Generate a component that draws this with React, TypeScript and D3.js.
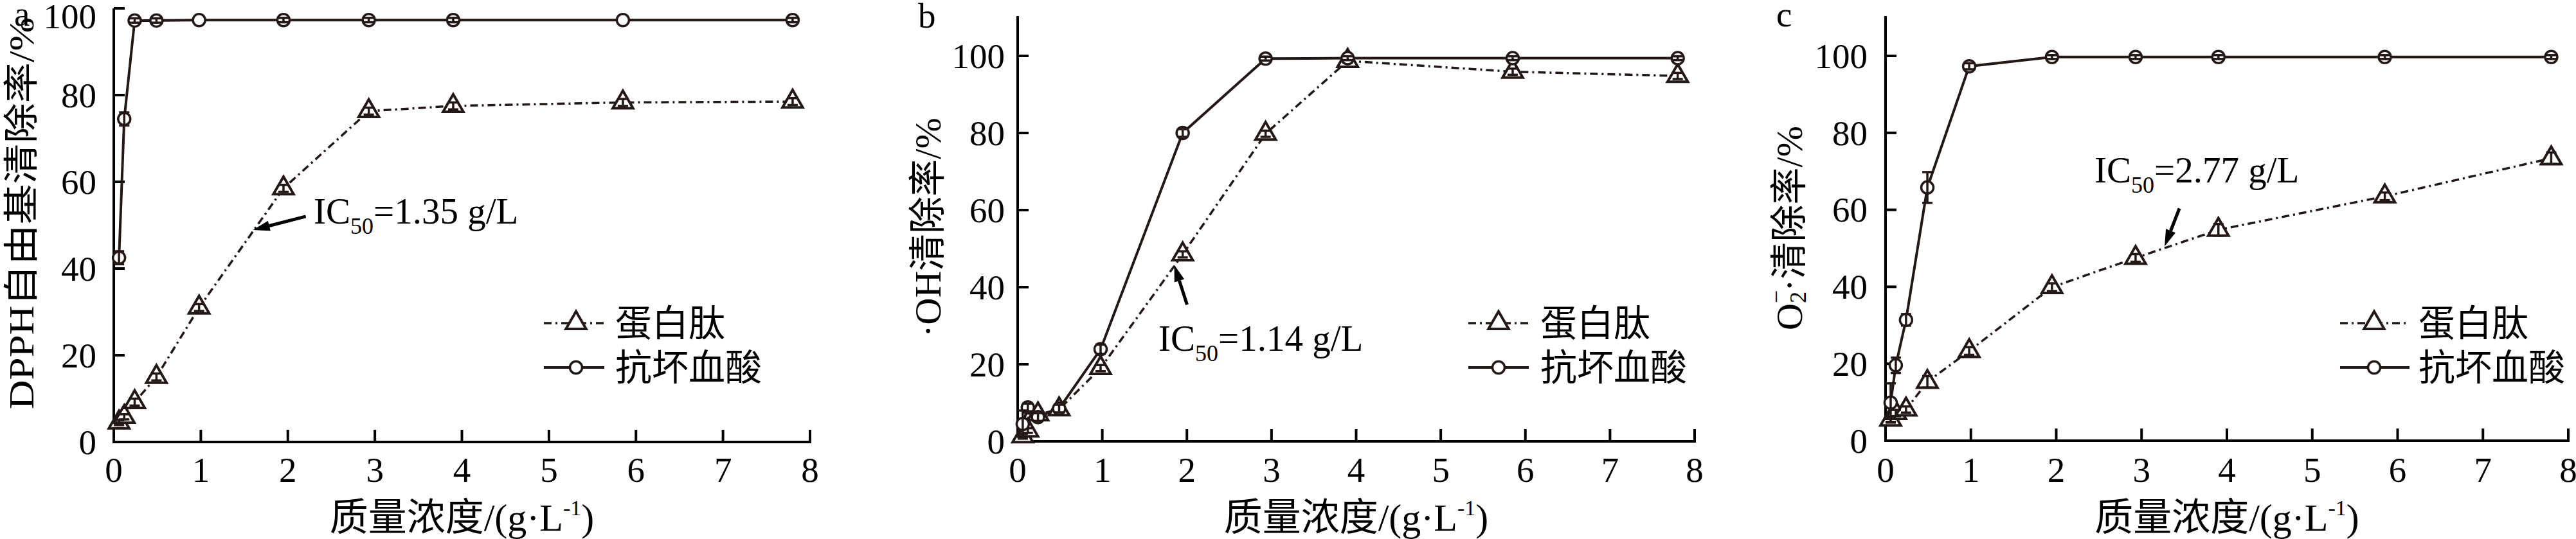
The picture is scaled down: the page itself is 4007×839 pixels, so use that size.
// @ts-nocheck
import React from "react";
import * as d3 from "d3";

// concentration points (g/L), shared by every panel
const conc = [0.06, 0.12, 0.24, 0.49, 0.98, 1.95, 2.93, 3.9, 5.85, 7.8];

const xTicks = [0, 1, 2, 3, 4, 5, 6, 7, 8];
const yTicks = [0, 20, 40, 60, 80, 100];

// a: DPPH
const dpphPeptide = [4.5, 5.8, 9.2, 15.0, 31.0, 58.5, 76.3, 77.5, 78.3, 78.5];
const dpphPeptideErr = [0.6, 0.6, 0.8, 0.8, 0.8, 0.8, 0.8, 0.8, 0.8, 0.8];
const dpphVc = [42.5, 74.5, 97.2, 97.2, 97.3, 97.3, 97.3, 97.3, 97.3, 97.3];
const dpphVcErr = [1.5, 1.5, 0.5, 0.5, 0, 0.5, 0.5, 0.5, 0, 0.5];

// b: hydroxyl radical
const ohPeptide = [1.3, 2.8, 7.0, 8.3, 19.0, 48.5, 79.8, 98.7, 95.9, 94.8];
const ohPeptideErr = [0.6, 0.6, 0.6, 0.6, 0.8, 0.8, 0.8, 0.5, 0.8, 0.8];
const ohVc = [4.5, 8.8, 6.3, 8.5, 23.9, 80.0, 99.3, 99.4, 99.4, 99.4];
const ohVcErr = [3.5, 1.0, 1.0, 1.0, 1.2, 1.0, 0.5, 0.5, 0.5, 0.5];

// c: superoxide anion
const o2Peptide = [5.5, 7.2, 8.1, 15.3, 23.3, 39.9, 47.5, 54.8, 63.5, 73.4];
const o2PeptideErr = [0.8, 0.8, 0.8, 1.5, 1.0, 1.0, 1.0, 1.5, 1.0, 1.5];
const o2Vc = [9.9, 19.6, 31.4, 65.8, 97.3, 99.7, 99.7, 99.7, 99.7, 99.7];
const o2VcErr = [5.0, 2.0, 1.5, 4.0, 0.8, 0.5, 0.5, 0.5, 0.5, 0.5];

// IC50 arrow tips [conc, %] and labels
const ic50Labels = ["1.35", "1.14", "2.77"];
const ic50Tips = [
  [1.6, 48.9],
  [1.85, 45.8],
  [3.27, 50.5],
];

const seriesNames = ["蛋白肽", "抗坏血酸"];

const W = 4007;
const H = 839;
const INK = "#231815";
const serif = "'Liberation Serif', 'Times New Roman', 'Noto Sans CJK SC', serif";

const panels = [
  {
    tag: "a", left: 177, right: 1260, bottom: 688, y100: 13, axisTop: 13, labGap: 27,
    peptide: dpphPeptide, peptideErr: dpphPeptideErr, vc: dpphVc, vcErr: dpphVcErr,
    tagX: 22, tagY: 40,
    yTitle: "dpph", yTitleX: 33, yTitleY: 332,
    legX: 896, legText: 957, legLeft: 846, legRight: 940, legY: [503, 572],
    icX: 488, icY: 348, tail: [82, -21],
  },
  {
    tag: "b", left: 1583, right: 2636, bottom: 687, y100: 87, axisTop: 25, labGap: 20,
    peptide: ohPeptide, peptideErr: ohPeptideErr, vc: ohVc, vcErr: ohVcErr,
    tagX: 1428, tagY: 43,
    yTitle: "oh", yTitleX: 1443, yTitleY: 354,
    legX: 2331, legText: 2396, legLeft: 2284, legRight: 2378, legY: [503, 572],
    icX: 1802, icY: 546, tail: [20, 62],
  },
  {
    tag: "c", left: 2933, right: 3995, bottom: 686, y100: 87, axisTop: 25, labGap: 28,
    peptide: o2Peptide, peptideErr: o2PeptideErr, vc: o2Vc, vcErr: o2VcErr,
    tagX: 2763, tagY: 41,
    yTitle: "o2", yTitleX: 2783, yTitleY: 355,
    legX: 3693, legText: 3762, legLeft: 3640, legRight: 3748, legY: [503, 572],
    icX: 3258, icY: 284, tail: [23, -59],
  },
];

const triPath = d3.symbol(d3.symbolTriangle, 430)();

function ErrorBars({ x, y, vals, errs }) {
  return (
    <g stroke={INK} strokeWidth={3.5}>
      {vals.map((v, i) =>
        errs[i] > 0 ? (
          <g key={i}>
            <line x1={x(conc[i])} x2={x(conc[i])} y1={y(v - errs[i])} y2={y(v + errs[i])} />
            <line x1={x(conc[i]) - 8} x2={x(conc[i]) + 8} y1={y(v - errs[i])} y2={y(v - errs[i])} />
            <line x1={x(conc[i]) - 8} x2={x(conc[i]) + 8} y1={y(v + errs[i])} y2={y(v + errs[i])} />
          </g>
        ) : null
      )}
    </g>
  );
}

function YTitle({ kind, x, y }) {
  const common = {
    transform: `rotate(-90 ${x} ${y})`,
    x, y, textAnchor: "middle", dominantBaseline: "central",
    fontFamily: serif, fontSize: 58, fill: "#000",
  };
  if (kind === "dpph")
    return (
      <text {...common} fontSize={55} textLength={610} lengthAdjust="spacingAndGlyphs">
        DPPH自由基清除率/%
      </text>
    );
  if (kind === "oh") return <text {...common}>·OH清除率/%</text>;
  return (
    <text {...common}>
      O
      <tspan fontSize={36} dy={-20}>−</tspan>
      <tspan fontSize={36} dx={-20} dy={34}>2</tspan>
      <tspan dy={-14}>·清除率/%</tspan>
    </text>
  );
}

function Panel({ p, idx }) {
  const x = d3.scaleLinear().domain([0, 8]).range([p.left, p.right]);
  const y = d3.scaleLinear().domain([0, 100]).range([p.bottom, p.y100]);
  const line = d3
    .line()
    .x((d, i) => x(conc[i]))
    .y((d) => y(d));
  const [tx, ty] = ic50Tips[idx];
  const tipX = x(tx);
  const tipY = y(ty);
  const tailX = tipX + p.tail[0];
  const tailY = tipY + p.tail[1];
  const ang = Math.atan2(tipY - tailY, tipX - tailX);
  const hl = 26;
  const hw = 8;
  const bx = tipX - hl * Math.cos(ang);
  const by = tipY - hl * Math.sin(ang);
  const head = [
    [tipX, tipY],
    [bx + hw * Math.sin(ang), by - hw * Math.cos(ang)],
    [bx - hw * Math.sin(ang), by + hw * Math.cos(ang)],
  ];

  return (
    <g>
      {/* axes */}
      <g stroke="#000" strokeWidth={4} fill="none">
        <line x1={p.left} x2={p.right + 2} y1={p.bottom} y2={p.bottom} />
        <line x1={p.left} x2={p.left} y1={p.bottom + 2} y2={p.axisTop} />
        {xTicks.map((t) => (
          <line key={t} x1={x(t)} x2={x(t)} y1={p.bottom} y2={p.bottom - 19} />
        ))}
        {yTicks.map((t) => (
          <line key={t} x1={p.left} x2={p.left + 17} y1={y(t)} y2={y(t)} />
        ))}
      </g>
      <g fontFamily={serif} fontSize={55} fill="#000">
        {xTicks.map((t) => (
          <text key={t} x={x(t)} y={750} textAnchor="middle">{t}</text>
        ))}
        {yTicks.map((t) => (
          <text key={t} x={p.left - p.labGap} y={Math.max(y(t), 25)} dy="0.34em" textAnchor="end">{t}</text>
        ))}
      </g>
      <text x={(p.left + p.right) / 2} y={826} textAnchor="middle" fontFamily={serif} fontSize={60}>
        质量浓度/(g·L<tspan fontSize={34} dy={-24}>-1</tspan><tspan dy={24}>)</tspan>
      </text>
      <YTitle kind={p.yTitle} x={p.yTitleX} y={p.yTitleY} />
      <text x={p.tagX} y={p.tagY} fontFamily={serif} fontSize={55}>{p.tag}</text>

      {/* series lines */}
      <path d={line(p.peptide)} fill="none" stroke={INK} strokeWidth={3.5} strokeDasharray="12,6,3,6" />
      <path d={line(p.vc)} fill="none" stroke={INK} strokeWidth={4} />

      {/* markers */}
      {p.peptide.map((v, i) => (
        <path key={i} d={triPath} transform={`translate(${x(conc[i])},${y(v)})`} fill="#fff" stroke={INK} strokeWidth={4} />
      ))}
      <ErrorBars x={x} y={y} vals={p.peptide} errs={p.peptideErr} />
      {p.vc.map((v, i) => (
        <circle key={i} cx={x(conc[i])} cy={y(v)} r={9.5} fill="#fff" stroke={INK} strokeWidth={3.5} />
      ))}
      <ErrorBars x={x} y={y} vals={p.vc} errs={p.vcErr} />

      {/* IC50 annotation */}
      <line x1={tailX} y1={tailY} x2={bx} y2={by} stroke="#000" strokeWidth={5} />
      <polygon points={head.map((q) => q.join(",")).join(" ")} fill="#000" />
      <text x={p.icX} y={p.icY} fontFamily={serif} fontSize={57}>
        IC<tspan fontSize={36} dy={16}>50</tspan><tspan dy={-16}>={ic50Labels[idx]} g/L</tspan>
      </text>

      {/* legend */}
      <g>
        <line x1={p.legLeft} x2={p.legRight} y1={p.legY[0]} y2={p.legY[0]} stroke={INK} strokeWidth={3.5} strokeDasharray="12,6,3,6" />
        <path d={triPath} transform={`translate(${p.legX},${p.legY[0]})`} fill="#fff" stroke={INK} strokeWidth={4} />
        <line x1={p.legLeft} x2={p.legRight} y1={p.legY[1]} y2={p.legY[1]} stroke={INK} strokeWidth={4} />
        <circle cx={p.legX} cy={p.legY[1]} r={9.5} fill="#fff" stroke={INK} strokeWidth={3.5} />
        {seriesNames.map((s, i) => (
          <text key={s} x={p.legText} y={p.legY[i]} dominantBaseline="central" fontFamily={serif} fontSize={57}>{s}</text>
        ))}
      </g>
    </g>
  );
}

export default function App() {
  return (
    <svg
      width={W}
      height={H}
      viewBox={`0 0 ${W} ${H}`}
      style={{ position: "absolute", left: 0, top: 0, background: "#fff" }}
    >
      <rect width={W} height={H} fill="#fff" />
      {panels.map((p, i) => (
        <Panel key={p.tag} p={p} idx={i} />
      ))}
    </svg>
  );
}
